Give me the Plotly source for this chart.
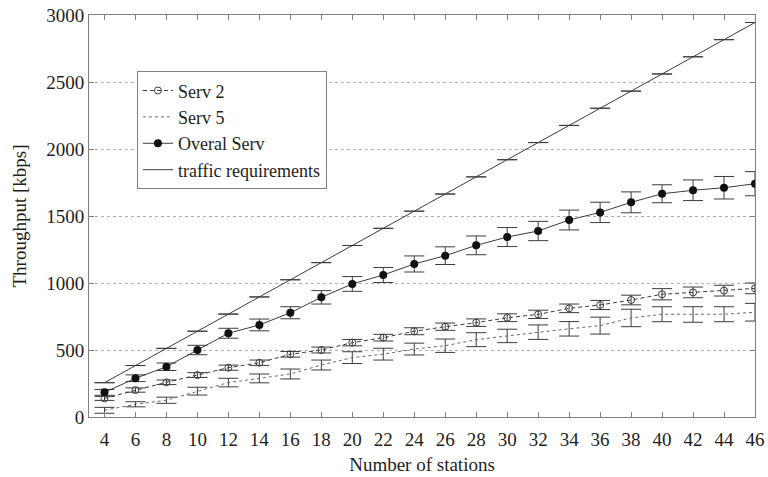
import plotly.graph_objects as go

# Number of stations on the x axis
stations = [4, 6, 8, 10, 12, 14, 16, 18, 20, 22, 24, 26, 28, 30, 32, 34, 36, 38, 40, 42, 44, 46]

# Throughput in kbps for each series, with error-bar half widths
serv2 = [139, 201, 259, 313, 368, 405, 468, 500, 555, 592, 640, 674, 704, 741, 766, 811, 836, 873, 916, 930, 943, 960]
serv2_err = [15, 16, 17, 18, 19, 20, 21, 22, 24, 25, 26, 27, 28, 29, 31, 32, 34, 36, 42, 40, 40, 40]

serv5 = [50, 95, 125, 193, 257, 288, 321, 388, 443, 469, 507, 532, 577, 605, 633, 658, 682, 739, 767, 765, 767, 782]
serv5_err = [22, 19, 23, 29, 32, 33, 37, 37, 44, 44, 44, 50, 52, 50, 54, 54, 63, 65, 56, 58, 56, 66]

overall = [184, 289, 375, 500, 625, 687, 778, 893, 993, 1060, 1142, 1204, 1281, 1343, 1388, 1470, 1527, 1602, 1666, 1692, 1711, 1741]
overall_err = [22, 25, 28, 35, 37, 44, 45, 50, 55, 56, 60, 66, 70, 71, 72, 74, 76, 78, 67, 77, 84, 90]

traffic = [256, 384, 512, 640, 768, 896, 1024, 1152, 1280, 1408, 1536, 1664, 1792, 1920, 2048, 2176, 2304, 2432, 2560, 2688, 2816, 2944]
traffic_err = [0] * len(stations)

y_ticks = [0, 500, 1000, 1500, 2000, 2500, 3000]

LINE = "#3c3c3c"
AXIS = "#808080"
TEXT = "#1e1e1e"
FONT = "Liberation Serif, Times New Roman, serif"
SIZE = 19


def err(vals):
    return dict(type="data", array=vals, visible=True, color=LINE, thickness=1, width=10)


fig = go.Figure()
fig.add_trace(go.Scatter(
    x=stations, y=serv2, name="Serv 2", mode="lines+markers",
    line=dict(color=LINE, width=1, dash="4px,3px"),
    marker=dict(symbol="circle-open", size=7, color=LINE, line=dict(width=1)),
    error_y=err(serv2_err),
))
fig.add_trace(go.Scatter(
    x=stations, y=serv5, name="Serv 5", mode="lines",
    line=dict(color="#6a6a6a", width=1, dash="dot"),
    error_y=err(serv5_err),
))
fig.add_trace(go.Scatter(
    x=stations, y=overall, name="Overal Serv", mode="lines+markers",
    line=dict(color=LINE, width=1),
    marker=dict(symbol="circle", size=8, color="#111111"),
    error_y=err(overall_err),
))
fig.add_trace(go.Scatter(
    x=stations, y=traffic, name="traffic requirements", mode="lines",
    line=dict(color=LINE, width=1),
    error_y=err(traffic_err),
))

axis_common = dict(
    showline=True, linecolor=AXIS, linewidth=1, mirror="ticks",
    ticks="inside", ticklen=5, tickcolor=AXIS,
    tickfont=dict(family=FONT, size=SIZE, color=TEXT),
    zeroline=False, automargin=False,
)

fig.update_layout(
    width=768, height=477,
    margin=dict(l=89, r=13, t=15, b=60),
    paper_bgcolor="white", plot_bgcolor="white",
    font=dict(family=FONT, size=SIZE, color=TEXT),
    xaxis=dict(
        range=[3, 46], tickmode="array", tickvals=stations,
        showgrid=False, ticklabelstandoff=5,
        title=dict(text="Number of stations", font=dict(family=FONT, size=SIZE, color=TEXT), standoff=8),
        **axis_common,
    ),
    yaxis=dict(
        range=[0, 3000], tickmode="array", tickvals=y_ticks,
        showgrid=True, gridcolor="#b0b0b0", griddash="dot", gridwidth=1,
        title=dict(text="Throughput [kbps]", font=dict(family=FONT, size=SIZE, color=TEXT), standoff=14),
        **axis_common,
    ),
    legend=dict(
        x=0.072, y=0.86, xanchor="left", yanchor="top",
        bgcolor="white", bordercolor=AXIS, borderwidth=1,
        font=dict(family=FONT, size=18, color=TEXT),
        itemwidth=30, tracegroupgap=0,
    ),
    showlegend=True,
)

fig.write_html("out.html")
